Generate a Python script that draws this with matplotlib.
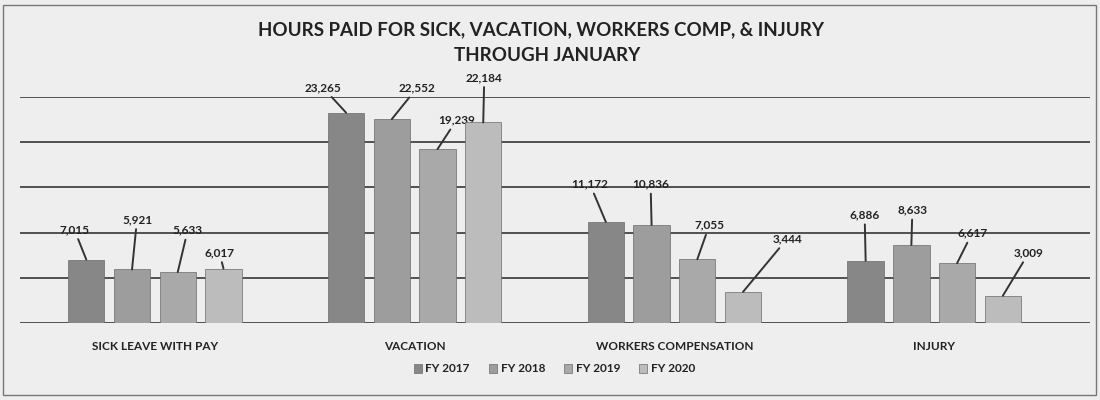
import numpy as np
import matplotlib.pyplot as plt
from matplotlib.patches import Rectangle

plt.rcParams['font.family'] = ['Lato', 'DejaVu Sans']

categories = ["SICK LEAVE WITH PAY", "VACATION", "WORKERS COMPENSATION", "INJURY"]
years = ["FY 2017", "FY 2018", "FY 2019", "FY 2020"]
fy2017 = [7015, 23265, 11172, 6886]
fy2018 = [5921, 22552, 10836, 8633]
fy2019 = [5633, 19239, 7055, 6617]
fy2020 = [6017, 22184, 3444, 3009]
series = [fy2017, fy2018, fy2019, fy2020]

colors = ["#878787", "#9d9d9d", "#a9a9a9", "#bcbcbc"]

# label offsets in pixels (dx, dy) from each bar's top centre, per series
label_dx = [[-12, -23, -16, -1], [5, 25, -1, 1], [10, 19, 12, 15], [-4, 1, 44, 26]]
label_dy = [[30, 25, 38, 46], [50, 31, 41, 35], [42, 29, 34, 30], [16, 45, 53, 43]]

fig = plt.figure(figsize=(11, 4), dpi=100)
fig.patch.set_facecolor("#eeeeee")
fig.patches.append(Rectangle((0.003, 0.012), 0.993, 0.975, transform=fig.transFigure,
                             fill=False, edgecolor="#777777", lw=1.0))

ax = fig.add_axes([0.018, 0.1925, 0.973, 0.565])
ax.set_facecolor("#eeeeee")

x = np.arange(len(categories))
pitch = 0.176
width = 0.14
for j, vals in enumerate(series):
    pos = x + (j - 1.5) * pitch
    bars = ax.bar(pos, vals, width, color=colors[j], edgecolor="#6a6a6a", lw=0.5,
                  label=years[j], zorder=3)
    for i, b in enumerate(bars):
        v = vals[i]
        ax.annotate(f"{v:,}", xy=(b.get_x() + b.get_width() / 2, v),
                    xytext=(label_dx[j][i], label_dy[j][i]), textcoords="offset pixels",
                    ha="center", va="center", fontsize=8.5, fontweight="bold",
                    color="#222222", annotation_clip=False,
                    arrowprops=dict(arrowstyle="-", color="#333333", lw=1.4,
                                    shrinkA=1, shrinkB=0))

ax.set_xlim(-0.52, 3.6)
ax.set_ylim(0, 25000)
ax.set_yticks(np.arange(0, 25001, 5000))
ax.yaxis.grid(True, color="#444444", lw=1.3, zorder=0)
ax.set_yticklabels([])
ax.set_xticks(x)
ax.set_xticklabels(categories, fontsize=8.5, fontweight="bold", color="#222222")
ax.tick_params(length=0, pad=13)
for s in ax.spines.values():
    s.set_visible(False)

fig.text(0.492, 0.925, "HOURS PAID FOR SICK, VACATION, WORKERS COMP, & INJURY",
         ha="center", va="center", fontsize=13.5, fontweight="bold", color="#222222")
fig.text(0.497, 0.862, "THROUGH JANUARY",
         ha="center", va="center", fontsize=13.5, fontweight="bold", color="#222222")

leg = fig.legend(loc="center", bbox_to_anchor=(0.504, 0.0775), ncol=4, frameon=False,
                 handlelength=0.7, handleheight=0.7, handletextpad=0.3, columnspacing=1.6,
                 prop={"size": 8.5, "weight": "bold"})
for t in leg.get_texts():
    t.set_color("#222222")

fig.savefig("out.png", dpi=100, facecolor=fig.get_facecolor())
